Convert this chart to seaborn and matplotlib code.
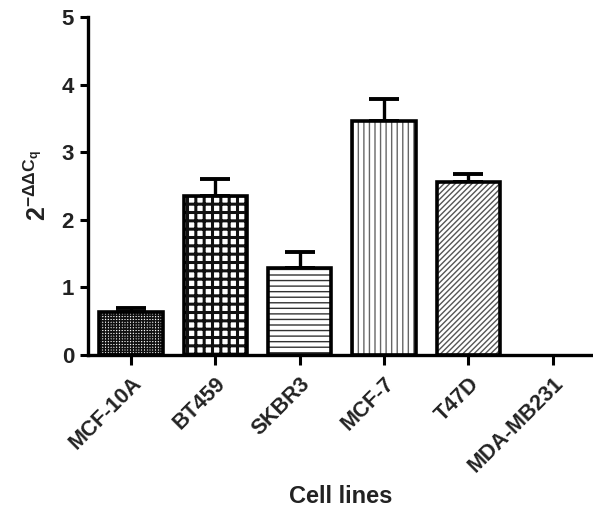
import matplotlib
matplotlib.use("Agg")
import matplotlib.pyplot as plt
import seaborn as sns
import pandas as pd

cell_lines = ["MCF-10A", "BT459", "SKBR3", "MCF-7", "T47D", "MDA-MB231"]
values = [0.63, 2.35, 1.29, 3.46, 2.56, 0.0]
errors = [0.07, 0.25, 0.24, 0.32, 0.12, 0.0]
y_ticks = [0, 1, 2, 3, 4, 5]

hatches = ["++++++", "++", "---", "|||", "//////", ""]
hatch_lw = [1.1, 2.2, 1.0, 1.0, 1.0, 1.0]
hatch_colors = ["#111111", "#111111", "#333333", "#666666", "#555555", "#111111"]

sns.set_style("ticks")
plt.rcParams["font.family"] = ["Liberation Sans", "DejaVu Sans"]
plt.rcParams["font.weight"] = "bold"
plt.rcParams["mathtext.default"] = "regular"
plt.rcParams["hatch.color"] = "black"

df = pd.DataFrame({"cell": cell_lines, "val": values})

fig = plt.figure(figsize=(5.93, 5.07), dpi=100)
ax = fig.add_axes([88 / 593, 152 / 507, 1 - 88 / 593, (355 - 17) / 507])

sns.barplot(data=df, x="cell", y="val", ax=ax, errorbar=None, color="white",
            edgecolor="black", linewidth=2.6, width=0.75, zorder=2)

for p, h, hl, hc, v in zip(ax.patches, hatches, hatch_lw, hatch_colors, values):
    p.set_facecolor("white")
    p.set_hatch(h)
    if hasattr(p, "set_hatch_linewidth"):
        p.set_hatch_linewidth(hl)
    p.set_edgecolor("black" if v > 0 else "none")
    try:
        p._hatch_color = matplotlib.colors.to_rgba(hc)
    except Exception:
        pass

xs = [i for i, e in enumerate(errors) if e > 0]
ax.errorbar(xs, [values[i] for i in xs],
            yerr=[[0] * len(xs), [errors[i] for i in xs]], fmt="none",
            ecolor="black", elinewidth=2.4, capsize=10.5, capthick=2.8, zorder=1)

ax.set_ylim(0, 5)
ax.set_xlim(-0.51, 5.48)
ax.set_yticks(y_ticks)
ax.set_yticklabels([str(t) for t in y_ticks], fontsize=16, fontweight="bold")
ax.set_xticks(range(len(cell_lines)))
ax.set_xticklabels(cell_lines, rotation=45, ha="right", rotation_mode="anchor",
                   fontsize=15.5, fontweight="bold")
ax.tick_params(axis="both", direction="out", length=6, width=2.2, color="black",
               labelcolor="#222222", pad=4)
ax.tick_params(axis="x", length=7, pad=6)

for s in ["left", "bottom"]:
    ax.spines[s].set_linewidth(2.4)
    ax.spines[s].set_color("black")
sns.despine(ax=ax, top=True, right=True)

ax.set_xlabel("Cell lines", fontsize=17, fontweight="bold", color="#222222", labelpad=6)
ax.set_ylabel(r"$2^{-\Delta\Delta C_q}$", fontsize=18, fontweight="bold",
              color="#222222", labelpad=8)

fig.savefig("out.png", dpi=100)
